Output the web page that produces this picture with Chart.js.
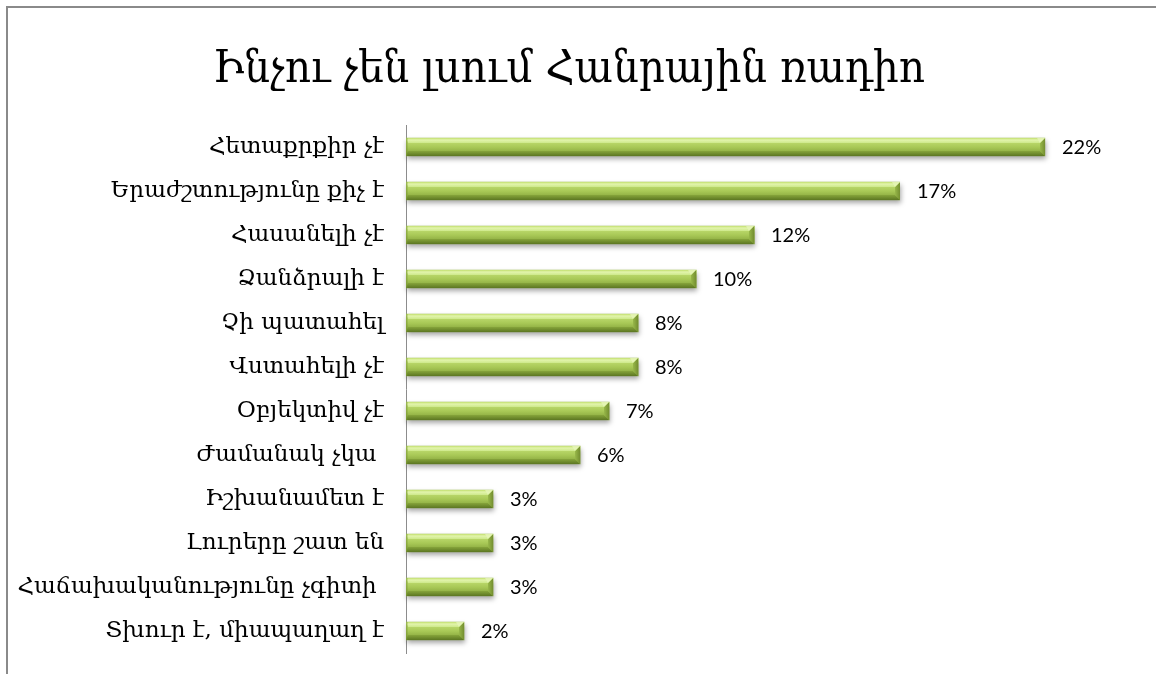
<!DOCTYPE html>
<html>
<head>
<meta charset="utf-8">
<script src="https://cdn.jsdelivr.net/npm/chart.js@4"></script>
<style>
  html,body{margin:0;padding:0;background:#fff;}
  #wrap{position:relative;width:1156px;height:674px;overflow:hidden;}
  #frame{position:absolute;left:6px;top:6px;right:-10px;bottom:-10px;border-left:2px solid #8a8a8a;border-top:2px solid #8a8a8a;}
  canvas{position:absolute;left:0;top:0;}
</style>
</head>
<body>
<div id="wrap">
  <div id="frame"></div>
  <canvas id="c" width="1156" height="674"></canvas>
</div>
<script>
// ===== data =====
const TITLE = 'Ինչու չեն լսում Հանրային ռադիո';
const categories = [
  'Հետաքրքիր չէ',
  'Երաժշտությունը քիչ է',
  'Հասանելի չէ',
  'Ձանձրալի է',
  'Չի պատահել',
  'Վստահելի չէ',
  'Օբյեկտիվ չէ',
  'Ժամանակ չկա ',
  'Իշխանամետ է',
  'Լուրերը շատ են',
  'Հաճախականությունը չգիտի ',
  'Տխուր է, միապաղաղ է'
];
const values = [22, 17, 12, 10, 8, 8, 7, 6, 3, 3, 3, 2];

// bevelled green bars + percent labels, drawn from the bar elements
const bevelBars = {
  id:'bevelBars',
  afterDatasetsDraw(chart){
    const ctx = chart.ctx;
    const meta = chart.getDatasetMeta(0);
    meta.data.forEach((bar,i)=>{
      const p = bar.getProps(['x','y','base','height'], true);
      const x0 = Math.round(p.base), x1 = Math.round(p.x);
      const yT = Math.round(p.y - p.height/2), yB = yT + Math.round(p.height);
      const h = yB - yT, d = 5;
      // body + shadow
      ctx.save();
      ctx.shadowColor = 'rgba(0,0,0,0.35)';
      ctx.shadowBlur = 5; ctx.shadowOffsetX = 1; ctx.shadowOffsetY = 3;
      const g = ctx.createLinearGradient(0,yT,0,yB);
      g.addColorStop(0,'#c9e57c'); g.addColorStop(0.5,'#a9c957'); g.addColorStop(1,'#7c9b34');
      ctx.fillStyle = g;
      ctx.fillRect(x0,yT,x1-x0,h);
      ctx.restore();
      // top face
      ctx.save();
      const gt = ctx.createLinearGradient(0,yT,0,yT+d);
      gt.addColorStop(0,'#c2df6e'); gt.addColorStop(0.4,'#e2f4ac'); gt.addColorStop(1,'#cde98a');
      ctx.fillStyle = gt;
      ctx.beginPath();
      ctx.moveTo(x0,yT); ctx.lineTo(x1,yT); ctx.lineTo(x1-d,yT+d); ctx.lineTo(x0+2,yT+d); ctx.closePath(); ctx.fill();
      // bottom face
      const gb = ctx.createLinearGradient(0,yB-d,0,yB);
      gb.addColorStop(0,'#86a53b'); gb.addColorStop(1,'#5c7622');
      ctx.fillStyle = gb;
      ctx.beginPath();
      ctx.moveTo(x0+2,yB-d); ctx.lineTo(x1-d,yB-d); ctx.lineTo(x1,yB); ctx.lineTo(x0,yB); ctx.closePath(); ctx.fill();
      // right face
      const gr = ctx.createLinearGradient(x1-d,0,x1,0);
      gr.addColorStop(0,'#98b84a'); gr.addColorStop(1,'#748f30');
      ctx.fillStyle = gr;
      ctx.beginPath();
      ctx.moveTo(x1,yT); ctx.lineTo(x1,yB); ctx.lineTo(x1-d,yB-d); ctx.lineTo(x1-d,yT+d); ctx.closePath(); ctx.fill();
      // top-right light triangle
      ctx.fillStyle = 'rgba(230,245,185,0.8)';
      ctx.beginPath();
      ctx.moveTo(x1,yT); ctx.lineTo(x1-d,yT+d); ctx.lineTo(x1-d-3,yT); ctx.closePath(); ctx.fill();
      // left edge
      ctx.fillStyle = 'rgba(120,150,50,0.6)';
      ctx.fillRect(x0,yT,1.5,h);
      ctx.restore();
      // value label
      ctx.save();
      ctx.fillStyle = '#000';
      ctx.font = '20px Lato, "Liberation Sans", sans-serif';
      ctx.textAlign = 'left'; ctx.textBaseline = 'middle';
      ctx.fillText(values[i]+'%', x1+17, (yT+yB)/2+1);
      ctx.restore();
    });
  }
};

new Chart(document.getElementById('c'),{
  type:'bar',
  data:{labels:categories, datasets:[{data:values, backgroundColor:'#a9c957', barThickness:18}]},
  options:{
    indexAxis:'y',
    responsive:false,
    animation:false,
    layout:{padding:{left:6,right:24,top:0,bottom:21}},
    plugins:{
      legend:{display:false},
      tooltip:{enabled:false},
      title:{display:true,text:TITLE,color:'#000',
        font:{family:'"DejaVu Serif Condensed", "DejaVu Serif", serif',size:45,weight:'normal'},
        padding:{top:43,bottom:28}}
    },
    scales:{
      x:{display:false,min:0,max:25},
      y:{
        // fixed axis position; drop the label half-height padding so the plot reaches the bottom
        afterFit:s=>{ s.width = 400; s.paddingTop = 0; s.paddingBottom = 0; },
        grid:{display:false,drawTicks:false},
        border:{display:true,color:'#8c8c8c',width:1},
        ticks:{color:'#000',padding:22,font:{family:'"DejaVu Serif", serif',size:23}}
      }
    }
  },
  plugins:[bevelBars]
});
</script>
</body>
</html>
